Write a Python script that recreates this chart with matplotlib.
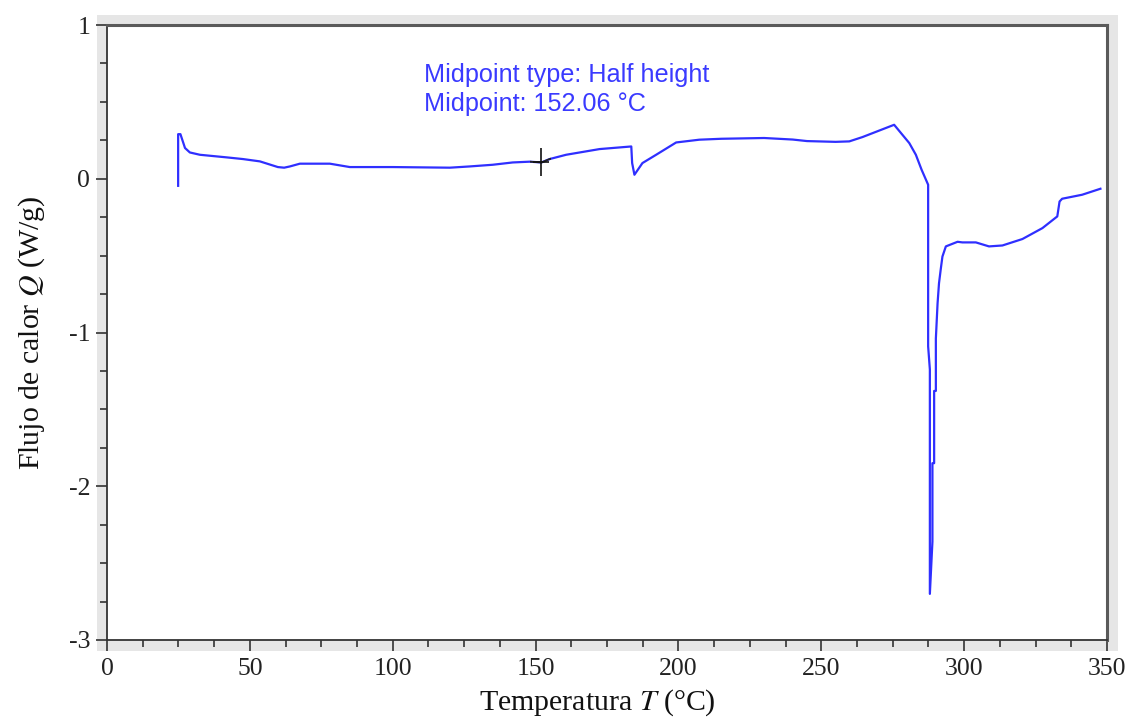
import numpy as np
import matplotlib
matplotlib.use("Agg")
import matplotlib.pyplot as plt
from matplotlib.patches import Rectangle
from matplotlib.ticker import MultipleLocator

# DSC heat-flow trace
temperature = [24.9, 24.9, 25.7, 27.3, 29.0, 32.5, 41.9, 47.6, 53.5, 59.8, 62.0,
               64.0, 67.5, 78.0, 85.0, 100.0, 120.0, 126.9, 135.0, 142.0, 147.9,
               152.06, 154.9, 160.7, 172.4, 183.5, 183.8, 184.6, 187.4, 192.2,
               199.2, 207.3, 215.0, 230.0, 240.0, 245.0, 255.0, 259.8, 264.4,
               275.5, 280.8, 283.1, 285.1, 287.4, 287.4, 288.0, 288.0, 288.9,
               288.9, 289.5, 289.5, 290.1, 290.1, 290.7, 291.2, 291.8, 292.4,
               293.6, 297.7, 299.4, 304.1, 308.7, 313.4, 320.4, 327.4, 332.6,
               333.4, 334.3, 341.3, 347.7]
heat_flow = [-0.046, 0.29, 0.29, 0.20, 0.171, 0.156, 0.139, 0.128, 0.113, 0.076,
             0.072, 0.080, 0.098, 0.098, 0.076, 0.076, 0.072, 0.080, 0.091, 0.106,
             0.111, 0.106, 0.128, 0.156, 0.193, 0.210, 0.102, 0.026, 0.102, 0.156,
             0.236, 0.254, 0.260, 0.265, 0.255, 0.245, 0.240, 0.243, 0.271,
             0.351, 0.232, 0.156, 0.059, -0.039, -1.09, -1.24, -2.70, -2.36,
             -1.85, -1.85, -1.38, -1.38, -1.04, -0.81, -0.68, -0.59, -0.506,
             -0.44, -0.41, -0.414, -0.414, -0.44, -0.434, -0.392, -0.321, -0.245,
             -0.148, -0.130, -0.104, -0.065]

midpoint_T = 152.06
annotation_lines = ["Midpoint type: Half height", "Midpoint: 152.06 \u00b0C"]

x_ticks = [0, 50, 100, 150, 200, 250, 300, 350]
y_ticks = [-3, -2, -1, 0, 1]

plt.rcParams["font.family"] = ["Liberation Serif", "DejaVu Serif"]
plt.rcParams["mathtext.fontset"] = "stix"
plt.rcParams["axes.unicode_minus"] = False

W, H = 1132, 720
fig = plt.figure(figsize=(W / 100, H / 100), dpi=100)
fig.patch.set_facecolor("white")

ax_l, ax_r, ax_t, ax_b = 107, 1107, 25, 640
ax = fig.add_axes([ax_l / W, 1 - ax_b / H, (ax_r - ax_l) / W, (ax_b - ax_t) / H])
ax.set_facecolor("white")
ax.set_zorder(2)

# grey bevel around the plotting area
frame = Rectangle((97 / W, 1 - 651 / H), (1118 - 97) / W, (651 - 15) / H,
                  transform=fig.transFigure, facecolor="#e6e6e6",
                  edgecolor="none", zorder=-5)
fig.patches.append(frame)

line_color = "#2f2fff"
ax.plot(temperature, heat_flow, color=line_color, lw=1.6, zorder=3,
        solid_joinstyle="round")

# black overlay on the glass-transition segment
seg, = ax.plot(temperature, heat_flow, color="#222222", lw=1.3, zorder=4)
clip = Rectangle((148.0, -5), 7.5, 10, transform=ax.transData)
seg.set_clip_path(clip)

# midpoint crosshair
mid_q = np.interp(midpoint_T, temperature, heat_flow)
ax.plot([midpoint_T], [mid_q], marker="|", markersize=20, mew=1.2,
        color="#111111", zorder=5)
ax.plot([midpoint_T], [mid_q], marker="_", markersize=11, mew=1.2,
        color="#111111", zorder=5)

ax.text(110.8, 0.755, "\n".join(annotation_lines), color="#3a3aff",
        fontsize=18.2, family=["Liberation Sans", "DejaVu Sans"],
        va="top", ha="left", linespacing=1.27)

ax.set_xlim(0, 350)
ax.set_ylim(-3, 1)
ax.set_xticks(x_ticks)
ax.set_yticks(y_ticks)
ax.xaxis.set_minor_locator(MultipleLocator(12.5))
ax.yaxis.set_minor_locator(MultipleLocator(0.25))
ax.tick_params(axis="both", which="major", direction="out", length=8,
               width=1.2, color="#333333", labelsize=18.5, labelcolor="#222222")
ax.tick_params(axis="both", which="minor", direction="out", length=5,
               width=1.2, color="#333333")
ax.tick_params(axis="x", pad=5)
ax.tick_params(axis="y", pad=4)

for side in ("left", "bottom"):
    ax.spines[side].set_color("#333333")
    ax.spines[side].set_linewidth(1.3)
for side in ("top", "right"):
    ax.spines[side].set_color("#5a5a5a")
    ax.spines[side].set_linewidth(2.2)

ax.set_xlabel("Temperatura $T$ (\u00b0C)", fontsize=21.5, color="#111111",
              labelpad=5)
ax.xaxis.label.set_x((597 - ax_l) / (ax_r - ax_l))
ax.set_ylabel("Flujo de calor $Q$ (W/g)", fontsize=21.5, color="#111111",
              labelpad=16)

fig.savefig("out.png", dpi=100)
